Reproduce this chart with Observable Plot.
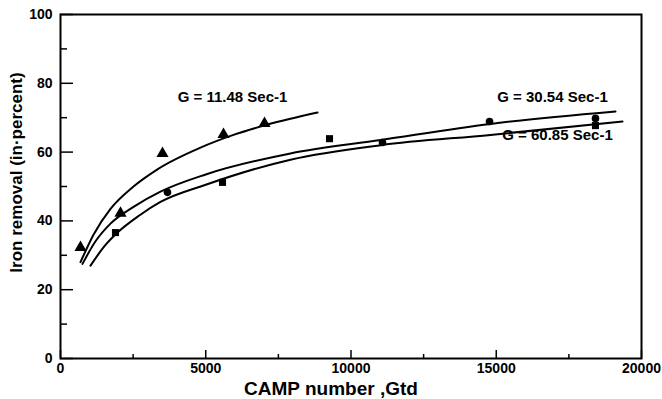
<!DOCTYPE html>
<html>
<head>
<meta charset="utf-8">
<script src="https://cdn.jsdelivr.net/npm/d3@7"></script>
<script src="https://cdn.jsdelivr.net/npm/@observablehq/plot@0.6"></script>
<style>
  html, body { margin: 0; padding: 0; background: #fff; }
  #chart svg { display: block; }
</style>
</head>
<body>
<div id="chart"></div>
<script>
// Measured points: G = 11.48 Sec-1 (triangles)
const triX = [688, 2065, 3511, 5611, 7022];
const triY = [32.3, 42.2, 59.6, 65.1, 68.3];
// G = 30.54 Sec-1 (circles)
const cirX = [3683, 11084, 14768, 18416];
const cirY = [48.3, 62.8, 68.9, 69.8];
// G = 60.85 Sec-1 (squares)
const sqX = [1893, 5577, 9260, 18416];
const sqY = [36.6, 51.2, 63.9, 67.7];

// Fitted curves
const curveAX = [688, 1136, 1721, 2513, 3339, 4819, 5955, 7126, 8847];
const curveAY = [28, 36, 43.5, 50, 55, 61.3, 65, 68, 71.5];
const curveBX = [757, 1200, 1721, 2500, 3442, 5000, 7917, 11015, 14802, 19105];
const curveBY = [27.5, 34, 39.2, 44, 48.5, 53.5, 59.6, 63.5, 68.2, 71.8];
const curveCX = [1033, 1500, 1962, 2700, 3442, 5000, 7917, 11015, 14802, 19346];
const curveCY = [27, 32.5, 36.6, 41.5, 45.5, 50.5, 57.8, 62.0, 65.0, 68.9];

// Annotations
const labelText = ["G = 11.48 Sec-1", "G = 30.54 Sec-1", "G = 60.85 Sec-1"];
const labelX = [5921, 16936, 17108];
const labelY = [75.9, 75.9, 64.8];

// Ticks
const xMajor = [0, 5000, 10000, 15000, 20000];
const xMinor = [2500, 7500, 12500, 17500];
const yMajor = [0, 20, 40, 60, 80, 100];
const yMinor = [10, 30, 50, 70, 90];

const xTitle = "CAMP number ,Gtd";
const yTitle = "Iron removal (in\u00b7percent)";

const zip = (xs, ys) => xs.map((x, i) => ({x, y: ys[i]}));
const tri = zip(triX, triY), cir = zip(cirX, cirY), sq = zip(sqX, sqY);
const cA = zip(curveAX, curveAY), cB = zip(curveBX, curveBY), cC = zip(curveCX, curveCY);
const labels = labelText.map((t, i) => ({t, x: labelX[i], y: labelY[i]}));

const font = "Liberation Sans, Arial, Helvetica, sans-serif";

const chart = Plot.plot({
  width: 662,
  height: 399,
  marginLeft: 60,
  marginRight: 21,
  marginTop: 14,
  marginBottom: 41,
  style: {fontFamily: font, fontSize: "14px", fontWeight: "bold", color: "#000", background: "#fff"},
  x: {domain: [0, 20000]},
  y: {domain: [0, 100]},
  marks: [
    Plot.frame({stroke: "#000", strokeWidth: 2}),
    Plot.axisX({ticks: xMajor, tickSize: -8, tickPadding: 13, tickFormat: d => String(d), label: null, strokeWidth: 1.5}),
    Plot.axisX({ticks: xMinor, tickSize: -4, text: null, label: null, strokeWidth: 1.5}),
    Plot.axisY({ticks: yMajor, tickSize: -13, tickPadding: 21, tickFormat: d => String(d), label: null, strokeWidth: 1.5}),
    Plot.axisY({ticks: yMinor, tickSize: -7, text: null, label: null, strokeWidth: 1.5}),
    Plot.line(cA, {x: "x", y: "y", curve: "monotone-x", stroke: "#000", strokeWidth: 2}),
    Plot.line(cB, {x: "x", y: "y", curve: "monotone-x", stroke: "#000", strokeWidth: 2}),
    Plot.line(cC, {x: "x", y: "y", curve: "monotone-x", stroke: "#000", strokeWidth: 2}),
    Plot.dot(tri, {x: "x", y: "y", symbol: "triangle", r: 4.5, fill: "#000", stroke: "none"}),
    Plot.dot(cir, {x: "x", y: "y", symbol: "circle", r: 3.8, fill: "#000", stroke: "none"}),
    Plot.dot(sq, {x: "x", y: "y", symbol: "square", r: 4, fill: "#000", stroke: "none"}),
    Plot.text(labels, {x: "x", y: "y", text: "t", fontSize: 15, fontWeight: "bold", fill: "#000"}),
    Plot.text([xTitle], {frameAnchor: "bottom", textAnchor: "middle", lineAnchor: "bottom", dx: -20, dy: 36, fontSize: 19, fontWeight: "bold", fill: "#000"}),
    Plot.text([yTitle], {frameAnchor: "left", textAnchor: "middle", lineAnchor: "middle", dx: -44, dy: -14, rotate: -90, fontSize: 17, fontWeight: "bold", fill: "#000"})
  ]
});
document.getElementById("chart").appendChild(chart);
</script>
</body>
</html>
